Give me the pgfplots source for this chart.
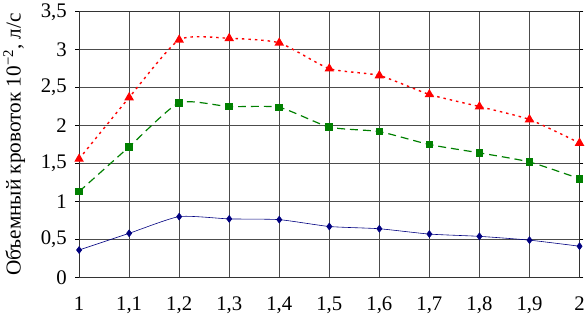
\documentclass[border=0pt]{standalone}
\usepackage{fontspec}
\setmainfont{Liberation Serif}
\usepackage{pgfplots}
\pgfplotsset{compat=1.18}
\definecolor{bl}{RGB}{0,0,128}
\definecolor{gr}{RGB}{0,128,0}
\definecolor{rd}{RGB}{255,0,0}
\begin{document}
\begin{tikzpicture}
\begin{axis}[
  scale only axis,
  width=505bp, height=268bp,
  xmin=1, xmax=2, ymin=0, ymax=3.5,
  xtick={1,1.1,1.2,1.3,1.4,1.5,1.6,1.7,1.8,1.9,2},
  ytick={0,0.5,1,1.5,2,2.5,3,3.5},
  /pgf/number format/.cd, use comma, assume math mode=true, fixed, precision=1,
  /pgfplots/.cd,
  xticklabel={\pgfmathprintnumber{\tick}},
  yticklabel={\pgfmathprintnumber{\tick}},
  grid=major,
  major grid style={draw=black!70, line width=0.6pt},
  axis line style={draw=black!80, line width=0.7pt},
  tick align=outside,
  major tick length=4bp,
  ytick style={black, line width=0.6pt},
  xtick style={draw=none},
  ticklabel style={font=\fontsize{21}{24}\selectfont},
  xticklabel shift=12bp,
  yticklabel style={xshift=-5bp},
  ylabel={Объемный кровоток 10\textsuperscript{\char"2212 2}, л/с},
  ylabel style={font=\fontsize{21.5}{24}\selectfont, yshift=9bp},
  clip=false,
]
\addplot[bl, line width=0.6pt, smooth, tension=0.35, mark=diamond*, mark size=3.5pt, mark options={solid, fill=bl}]
  coordinates {(1,0.36) (1.1,0.58) (1.2,0.80) (1.3,0.77) (1.4,0.76) (1.5,0.67) (1.6,0.64) (1.7,0.57) (1.8,0.54) (1.9,0.49) (2,0.41)};
\addplot[gr, line width=1.2pt, smooth, tension=0.35, dash pattern=on 8bp off 5bp, mark=square*, mark size=3.3pt, mark options={solid, fill=gr}]
  coordinates {(1,1.13) (1.1,1.72) (1.2,2.30) (1.3,2.25) (1.4,2.24) (1.5,1.98) (1.6,1.92) (1.7,1.75) (1.8,1.64) (1.9,1.52) (2,1.30)};
\addplot[rd, line width=1.4pt, smooth, tension=0.35, dash pattern=on 2.5bp off 4bp, mark=triangle*, mark size=4.2pt, mark options={solid, fill=rd}]
  coordinates {(1,1.56) (1.1,2.37) (1.2,3.13) (1.3,3.15) (1.4,3.09) (1.5,2.75) (1.6,2.66) (1.7,2.41) (1.8,2.25) (1.9,2.08) (2,1.77)};
\end{axis}
\end{tikzpicture}
\end{document}
